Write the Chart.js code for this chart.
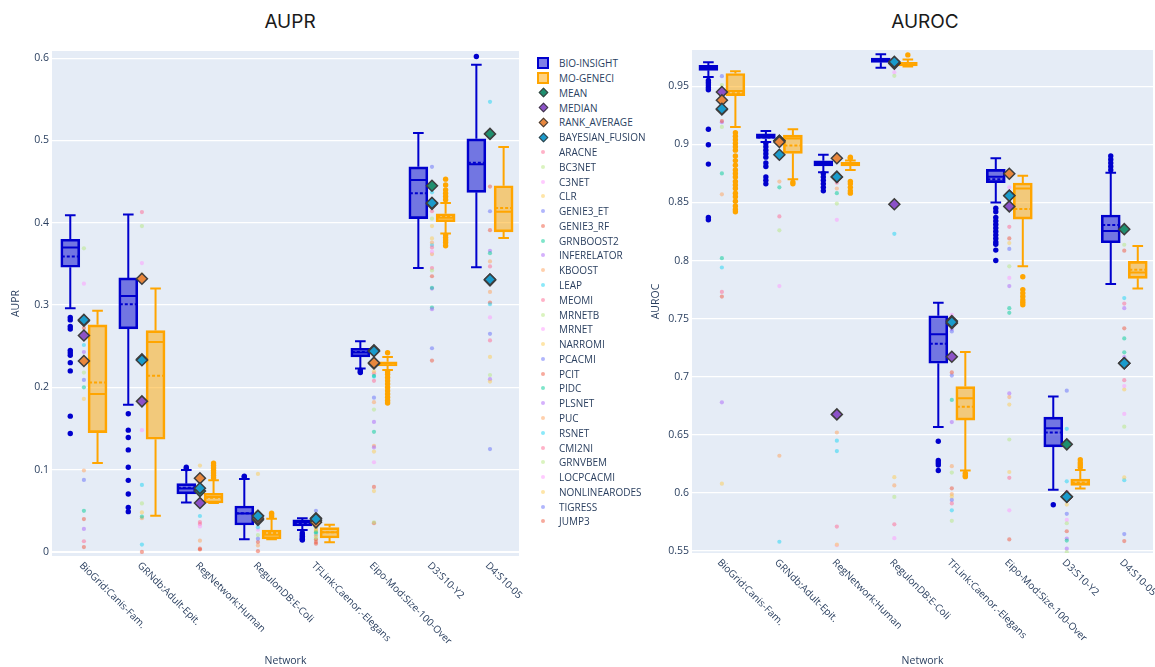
<!DOCTYPE html>
<html>
<head>
<meta charset="utf-8">
<script src="https://cdn.jsdelivr.net/npm/chart.js@4.4.1/dist/chart.umd.min.js"></script>
<style>
  html, body { margin: 0; padding: 0; background: #fff; overflow: hidden; width: 1155px; height: 667px; }
  body { position: relative; font-family: "Open Sans", sans-serif; }
  canvas { position: absolute; top: 0; }
  #aupr { left: 0; }
  #auroc { left: 640px; }
  .title { position: absolute; top: 10px; line-height: 24px; font-family: Inter, "Open Sans", sans-serif;
           font-size: 19px; color: #1a1a1a; transform: translateX(-50%); white-space: nowrap; }
  .lg { position: absolute; left: 559px; font-size: 10px; line-height: 14px; height: 14px; color: #2a3f5f; white-space: nowrap; }
  .sym { position: absolute; box-sizing: border-box; }
</style>
</head>
<body>
<div class="title" style="left:290px">AUPR</div>
<div class="title" style="left:925px">AUROC</div>
<canvas id="aupr" width="530" height="667"></canvas>
<canvas id="auroc" width="520" height="667"></canvas>
<div id="legend"></div>
<script>
/* ---------- data ---------- */
const networks = ['BioGrid:Canis-Fam.', 'GRNdb:Adult-Epit.', 'RegNetwork:Human', 'RegulonDB:E-Coli',
  'TFLink:Caenor.-Elegans', 'Eipo-Mod:Size-100-Over', 'D3:S10-Y2', 'D4:S10-05'];

const methodNames = ['ARACNE', 'BC3NET', 'C3NET', 'CLR', 'GENIE3_ET', 'GENIE3_RF', 'GRNBOOST2', 'INFERELATOR',
  'KBOOST', 'LEAP', 'MEOMI', 'MRNETB', 'MRNET', 'NARROMI', 'PCACMI', 'PCIT', 'PIDC', 'PLSNET', 'PUC', 'RSNET',
  'CMI2NI', 'GRNVBEM', 'LOCPCACMI', 'NONLINEARODES', 'TIGRESS', 'JUMP3'];

const auprTicks = [0, 0.1, 0.2, 0.3, 0.4, 0.5, 0.6];
const aurocTicks = [0.55, 0.6, 0.65, 0.7, 0.75, 0.8, 0.85, 0.9, 0.95];

// AUPR - BIO-INSIGHT
const auprBioLow  = [0.296, 0.179, 0.060, 0.0154, 0.0267, 0.223, 0.345, 0.346];
const auprBioQ1   = [0.346, 0.271, 0.0705, 0.0328, 0.0316, 0.237, 0.405, 0.437];
const auprBioMed  = [0.370, 0.311, 0.077, 0.0466, 0.036, 0.2425, 0.452, 0.471];
const auprBioQ3   = [0.380, 0.333, 0.083, 0.0559, 0.0389, 0.2475, 0.468, 0.502];
const auprBioHigh = [0.409, 0.410, 0.0996, 0.0887, 0.041, 0.256, 0.509, 0.592];
const auprBioMean = [0.359, 0.301, 0.078, 0.047, 0.035, 0.243, 0.436, 0.473];
const auprBioOut  = [
  [0.285, 0.282, 0.274, 0.271, 0.245, 0.242, 0.239, 0.230, 0.220, 0.165, 0.144],
  [0.168, 0.148, 0.139, 0.124, 0.103, 0.087, 0.0705, 0.054, 0.049],
  [0.103, 0.101], [0.092, 0.091], [0.023, 0.021, 0.019, 0.017, 0.0155, 0.0145],
  [0.221, 0.219, 0.218], [], [0.602]];
// AUPR - MO-GENECI
const auprMoLow  = [0.108, 0.044, 0.0595, 0.0155, 0.0118, 0.221, 0.387, 0.3815];
const auprMoQ1   = [0.145, 0.137, 0.0595, 0.016, 0.017, 0.226, 0.401, 0.389];
const auprMoMed  = [0.192, 0.255, 0.0668, 0.021, 0.024, 0.229, 0.406, 0.4135];
const auprMoQ3   = [0.276, 0.269, 0.0713, 0.0267, 0.0296, 0.231, 0.411, 0.445];
const auprMoHigh = [0.293, 0.320, 0.087, 0.0405, 0.0332, 0.237, 0.424, 0.492];
const auprMoMean = [0.206, 0.214, 0.066, 0.023, 0.024, 0.229, 0.407, 0.418];
const auprMoOut  = [[], [],
  [0.090, 0.093, 0.096, 0.099, 0.102, 0.105, 0.108], [0.043, 0.045, 0.047], [],
  [0.242, 0.219, 0.216, 0.212, 0.208, 0.204, 0.200, 0.196, 0.192, 0.188, 0.184, 0.181],
  [0.453, 0.446, 0.440, 0.436, 0.432, 0.428, 0.385, 0.382, 0.379, 0.376, 0.372], []];
// AUPR - consensus strategies
const auprMean   = [0.281, 0.234, 0.074, 0.044, 0.041, 0.245, 0.445, 0.508];
const auprMedian = [0.263, 0.183, 0.0595, 0.039, 0.038, 0.229, 0.424, 0.331];
const auprRank   = [0.232, 0.332, 0.0895, 0.041, 0.036, 0.230, 0.423, 0.330];
const auprBayes  = [0.282, 0.233, 0.0774, 0.0437, 0.040, 0.244, 0.424, 0.331];
// AUPR - individual techniques, one row per network (methodNames order)
const auprMethods = [
  [0.279, 0.369, 0.326, 0.186, 0.209, 0.006, 0.200, 0.243, 0.099, 0.2515, 0.013, 0.218, 0.282, 0.280, 0.0875, 0.040, 0.050, 0.028, 0.232, 0.263, 0.265, 0.234, 0.261, 0.284, 0.230, 0.272],
  [0.413, 0.396, 0.148, 0.048, 0.234, 0.000, 0.043, 0.183, 0.041, 0.0815, 0.332, 0.059, 0.351, 0.337, 0.236, 0.330, 0.232, 0.185, 0.334, 0.009, 0.235, 0.233, 0.181, 0.331, 0.237, 0.329],
  [0.0364, 0.078, 0.031, 0.105, 0.076, 0.004, 0.073, 0.060, 0.0137, 0.0437, 0.034, 0.075, 0.061, 0.090, 0.079, 0.003, 0.072, 0.058, 0.088, 0.077, 0.089, 0.074, 0.062, 0.091, 0.080, 0.059],
  [0.042, 0.0205, 0.038, 0.0948, 0.0162, 0.001, 0.045, 0.040, 0.008, 0.030, 0.037, 0.043, 0.027, 0.046, 0.044, 0.039, 0.041, 0.036, 0.035, 0.034, 0.040, 0.042, 0.044, 0.043, 0.045, 0.012],
  [0.036, 0.030, 0.034, 0.028, 0.050, 0.012, 0.024, 0.044, 0.020, 0.022, 0.032, 0.018, 0.038, 0.026, 0.040, 0.015, 0.035, 0.042, 0.031, 0.033, 0.029, 0.016, 0.037, 0.025, 0.039, 0.010],
  [0.208, 0.173, 0.109, 0.2195, 0.1875, 0.079, 0.214, 0.158, 0.182, 0.213, 0.217, 0.036, 0.229, 0.122, 0.231, 0.035, 0.146, 0.127, 0.129, 0.244, 0.246, 0.228, 0.243, 0.074, 0.247, 0.230],
  [0.414, 0.405, 0.365, 0.396, 0.468, 0.2325, 0.321, 0.295, 0.362, 0.437, 0.370, 0.342, 0.424, 0.381, 0.2475, 0.335, 0.297, 0.320, 0.376, 0.373, 0.345, 0.426, 0.422, 0.445, 0.447, 0.443],
  [0.347, 0.215, 0.508, 0.207, 0.414, 0.444, 0.363, 0.366, 0.353, 0.547, 0.326, 0.331, 0.506, 0.333, 0.265, 0.391, 0.329, 0.210, 0.316, 0.301, 0.257, 0.510, 0.285, 0.237, 0.125, 0.303]
];

// AUROC - BIO-INSIGHT
const aurocBioLow  = [0.958, 0.902, 0.876, 0.966, 0.6567, 0.850, 0.6028, 0.7798];
const aurocBioQ1   = [0.9637, 0.905, 0.8815, 0.9706, 0.7116, 0.867, 0.6397, 0.8153];
const aurocBioMed  = [0.966, 0.907, 0.8835, 0.972, 0.7365, 0.8722, 0.6556, 0.8254];
const aurocBioQ3   = [0.968, 0.909, 0.8858, 0.9743, 0.7525, 0.8785, 0.6653, 0.8392];
const aurocBioHigh = [0.9706, 0.9115, 0.891, 0.9775, 0.7637, 0.888, 0.683, 0.8756];
const aurocBioMean = [0.9655, 0.906, 0.883, 0.9718, 0.7284, 0.870, 0.652, 0.8306];
const aurocBioOut  = [
  [0.955, 0.953, 0.951, 0.949, 0.947, 0.913, 0.8997, 0.883, 0.837, 0.835],
  [0.901, 0.898, 0.895, 0.892, 0.889, 0.884, 0.881, 0.872, 0.869, 0.866],
  [0.875, 0.872, 0.869, 0.866, 0.863, 0.860], [],
  [0.6445, 0.628, 0.626, 0.624, 0.6193],
  [0.845, 0.842, 0.837, 0.834, 0.831, 0.828, 0.825, 0.822, 0.819, 0.816, 0.814, 0.809, 0.800],
  [0.5898], [0.890, 0.887, 0.884, 0.881, 0.878]];
// AUROC - MO-GENECI
const aurocMoLow  = [0.915, 0.870, 0.878, 0.967, 0.6192, 0.795, 0.6038, 0.776];
const aurocMoQ1   = [0.942, 0.8923, 0.8815, 0.9674, 0.6627, 0.8357, 0.6065, 0.7847];
const aurocMoMed  = [0.946, 0.905, 0.883, 0.969, 0.6814, 0.862, 0.608, 0.7898];
const aurocMoQ3   = [0.961, 0.908, 0.8845, 0.9706, 0.6915, 0.8667, 0.612, 0.7993];
const aurocMoHigh = [0.963, 0.913, 0.886, 0.973, 0.7213, 0.873, 0.6198, 0.8125];
const aurocMoMean = [0.944, 0.899, 0.8825, 0.969, 0.6742, 0.8443, 0.609, 0.792];
const aurocMoOut  = [
  [0.910, 0.907, 0.904, 0.901, 0.898, 0.895, 0.890, 0.886, 0.882, 0.878, 0.875, 0.872, 0.868, 0.865, 0.862, 0.858, 0.855, 0.851, 0.847, 0.844, 0.842],
  [0.8675, 0.866], [0.889, 0.888, 0.868, 0.866, 0.863, 0.860, 0.858], [0.977],
  [0.617, 0.615, 0.614], [0.786, 0.775, 0.772, 0.769, 0.766, 0.764, 0.762],
  [0.6285, 0.626, 0.624, 0.622], []];
// AUROC - consensus strategies
const aurocMean   = [0.930, 0.903, 0.872, 0.9695, 0.748, 0.856, 0.6418, 0.827];
const aurocMedian = [0.945, 0.903, 0.6676, 0.8484, 0.7172, 0.8466, 0.5967, 0.7116];
const aurocRank   = [0.938, 0.902, 0.888, 0.970, 0.746, 0.8747, 0.5967, 0.7116];
const aurocBayes  = [0.9306, 0.891, 0.872, 0.971, 0.747, 0.8558, 0.5967, 0.7116];
// AUROC - individual techniques
const aurocMethods = [
  [0.773, 0.951, 0.946, 0.608, 0.9587, 0.920, 0.875, 0.678, 0.857, 0.794, 0.939, 0.915, 0.937, 0.945, 0.944, 0.769, 0.802, 0.919, 0.938, 0.931, 0.929, 0.930, 0.943, 0.932, 0.936, 0.928],
  [0.838, 0.826, 0.778, 0.902, 0.905, 0.900, 0.863, 0.893, 0.868, 0.558, 0.890, 0.903, 0.889, 0.901, 0.904, 0.892, 0.894, 0.888, 0.632, 0.906, 0.900, 0.902, 0.891, 0.903, 0.905, 0.890],
  [0.867, 0.849, 0.835, 0.5555, 0.873, 0.887, 0.858, 0.668, 0.862, 0.645, 0.571, 0.871, 0.555, 0.889, 0.874, 0.870, 0.872, 0.666, 0.652, 0.636, 0.886, 0.873, 0.669, 0.888, 0.870, 0.890],
  [0.573, 0.959, 0.962, 0.6136, 0.970, 0.968, 0.971, 0.969, 0.6065, 0.823, 0.972, 0.5966, 0.5611, 0.970, 0.971, 0.969, 0.970, 0.848, 0.972, 0.967, 0.971, 0.970, 0.969, 0.971, 0.972, 0.970],
  [0.591, 0.6175, 0.7532, 0.597, 0.739, 0.7037, 0.680, 0.741, 0.623, 0.585, 0.748, 0.576, 0.718, 0.750, 0.701, 0.604, 0.745, 0.661, 0.599, 0.745, 0.715, 0.749, 0.716, 0.746, 0.594, 0.719],
  [0.829, 0.795, 0.863, 0.815, 0.810, 0.819, 0.759, 0.778, 0.6825, 0.856, 0.613, 0.646, 0.785, 0.676, 0.875, 0.560, 0.755, 0.6856, 0.846, 0.857, 0.874, 0.855, 0.585, 0.618, 0.848, 0.876],
  [0.601, 0.5739, 0.5768, 0.590, 0.688, 0.598, 0.559, 0.5608, 0.597, 0.6552, 0.642, 0.549, 0.644, 0.640, 0.582, 0.567, 0.641, 0.552, 0.595, 0.610, 0.599, 0.643, 0.596, 0.639, 0.598, 0.640],
  [0.763, 0.8136, 0.692, 0.689, 0.5646, 0.8085, 0.733, 0.759, 0.827, 0.7677, 0.697, 0.657, 0.668, 0.6133, 0.829, 0.7417, 0.721, 0.717, 0.712, 0.611, 0.826, 0.710, 0.713, 0.7116, 0.825, 0.5586]
];

/* ---------- styles ---------- */
const BLUE = '#0000CD', BLUE_FILL = 'rgba(0,0,205,0.5)';
const ORANGE = '#FFA500', ORANGE_FILL = 'rgba(255,165,0,0.5)';
const consensusColors = ['#1f8f6f', '#8c52c8', '#e8873d', '#1a9bcc'];
const palette = ['#FF6692', '#B6E880', '#FF97FF', '#FECB52', '#636EFA', '#EF553B', '#00CC96', '#AB63FA', '#FFA15A', '#19D3F3'];
const methodColor = (j) => palette[j % 10];
const INK = '#2a3f5f';
const OFF = 0.235;     // box offset from category centre (category units)
const BOX_PX = 19;

function alpha(hex, a) {
  const n = parseInt(hex.slice(1), 16);
  return `rgba(${n >> 16},${(n >> 8) & 255},${n & 255},${a})`;
}

/* ---------- plugins ---------- */
const plotBg = {
  id: 'plotBg',
  beforeDraw(chart) {
    const { ctx, chartArea: a } = chart;
    ctx.save();
    ctx.fillStyle = '#E5ECF6';
    ctx.fillRect(a.left, a.top, a.right - a.left, a.bottom - a.top);
    ctx.restore();
  }
};

// whiskers, median and (dashed) mean drawn right after each box dataset
const boxLines = {
  id: 'boxLines',
  afterDatasetDraw(chart, args) {
    const ds = chart.data.datasets[args.index];
    const w = ds.whisker;
    if (!w) return;
    const { ctx, scales: { x, y } } = chart;
    const half = BOX_PX / 2 - 1, cap = BOX_PX * 0.28;
    ctx.save();
    ctx.strokeStyle = w.line;
    ctx.lineWidth = 2;
    w.low.forEach((lo, i) => {
      const cx = x.getPixelForValue(i + w.shift);
      const yLo = y.getPixelForValue(lo), yHi = y.getPixelForValue(w.high[i]);
      const yQ1 = y.getPixelForValue(ds.data[i].y[0]), yQ3 = y.getPixelForValue(ds.data[i].y[1]);
      const yMed = y.getPixelForValue(w.med[i]), yMean = y.getPixelForValue(w.mean[i]);
      ctx.setLineDash([]);
      ctx.beginPath();
      ctx.moveTo(cx, yQ1); ctx.lineTo(cx, yLo);
      ctx.moveTo(cx - cap, yLo); ctx.lineTo(cx + cap, yLo);
      ctx.moveTo(cx, yQ3); ctx.lineTo(cx, yHi);
      ctx.moveTo(cx - cap, yHi); ctx.lineTo(cx + cap, yHi);
      ctx.moveTo(cx - half, yMed); ctx.lineTo(cx + half, yMed);
      ctx.stroke();
      ctx.setLineDash([3, 2]);
      ctx.beginPath();
      ctx.moveTo(cx - half, yMean); ctx.lineTo(cx + half, yMean);
      ctx.stroke();
    });
    ctx.restore();
  }
};

// rotated category labels (45 degrees, reading down-right)
const slantLabels = {
  id: 'slantLabels',
  afterDraw(chart) {
    const { ctx, chartArea, scales: { x } } = chart;
    ctx.save();
    ctx.font = '10px "Open Sans"';
    ctx.fillStyle = INK;
    ctx.textAlign = 'left';
    ctx.textBaseline = 'middle';
    networks.forEach((name, i) => {
      ctx.save();
      ctx.translate(x.getPixelForValue(i) - 3, chartArea.bottom + 8);
      ctx.rotate(Math.PI / 4);
      ctx.fillText(name, 0, 0);
      ctx.restore();
    });
    ctx.restore();
  }
};

/* ---------- dataset builders ---------- */
function boxSet(label, low, q1, med, q3, high, mean, shift, line, fill) {
  return {
    type: 'bar', label, order: 6,
    data: q1.map((v, i) => ({ x: i + shift, y: [v, q3[i]] })),
    backgroundColor: fill, borderColor: line, borderWidth: 2, borderSkipped: false,
    barThickness: BOX_PX, grouped: false,
    whisker: { low, med, high, mean, shift, line }
  };
}

function outlierSet(outs, shift, color) {
  const pts = [];
  outs.forEach((list, i) => list.forEach(v => pts.push({ x: i + shift, y: v })));
  return { type: 'scatter', order: 5, data: pts, pointRadius: 2.7, pointBackgroundColor: color, pointBorderWidth: 0 };
}

function diamondSet(vals, k) {
  return {
    type: 'scatter', order: 3 - k,
    data: vals.map((v, i) => ({ x: i, y: v })),
    pointStyle: 'rectRot', pointRadius: 5.5,
    pointBackgroundColor: consensusColors[k], pointBorderColor: '#3d3d3d', pointBorderWidth: 1.5
  };
}

function methodSets(rows) {
  return methodNames.map((m, j) => ({
    type: 'scatter', order: 4, label: m,
    data: rows.map((row, i) => ({ x: i, y: row[j] })),
    pointRadius: 2.1, pointBackgroundColor: alpha(methodColor(j), 0.5), pointBorderWidth: 0
  }));
}

function makeChart(id, s) {
  return new Chart(document.getElementById(id), {
    type: 'bar',
    data: {
      datasets: [
        boxSet('BIO-INSIGHT', ...s.bio, -OFF, BLUE, BLUE_FILL),
        boxSet('MO-GENECI', ...s.mo, OFF, ORANGE, ORANGE_FILL),
        outlierSet(s.bioOut, -OFF, BLUE),
        outlierSet(s.moOut, OFF, ORANGE),
        ...s.consensus.map((v, k) => diamondSet(v, k)),
        ...methodSets(s.methods)
      ]
    },
    options: {
      responsive: false, animation: false, devicePixelRatio: 1,
      layout: { padding: { top: s.top, right: s.right, left: 0, bottom: 0 } },
      plugins: { legend: { display: false }, tooltip: { enabled: false } },
      scales: {
        x: {
          type: 'linear', min: s.xMin, max: 7.5, offset: false,
          grid: { display: false }, border: { display: false },
          ticks: { display: false },
          title: { display: true, text: 'Network', color: INK, font: { family: 'Open Sans', size: 10.5 }, padding: 0 },
          afterFit: (sc) => { sc.height = s.xHeight; }
        },
        y: {
          type: 'linear', min: s.min, max: s.max,
          grid: { color: '#fff', lineWidth: (c) => (c.tick && c.tick.value === 0 ? 2 : 1.3), drawTicks: false },
          border: { display: false },
          afterBuildTicks: (sc) => { sc.ticks = s.ticks.map(v => ({ value: v })); },
          ticks: { autoSkip: false, padding: 3, color: INK, font: { family: 'Open Sans', size: 10.5 },
                   callback: (v) => String(+v.toFixed(2)) },
          title: { display: true, text: s.yTitle, color: INK, font: { family: 'Open Sans', size: 10.5 }, padding: { top: 10, bottom: 0 } },
          afterFit: (sc) => { sc.width = s.yWidth; }
        }
      }
    },
    plugins: [plotBg, boxLines, slantLabels]
  });
}

makeChart('aupr', {
  bio: [auprBioLow, auprBioQ1, auprBioMed, auprBioQ3, auprBioHigh, auprBioMean],
  mo: [auprMoLow, auprMoQ1, auprMoMed, auprMoQ3, auprMoHigh, auprMoMean],
  bioOut: auprBioOut, moOut: auprMoOut,
  consensus: [auprMean, auprMedian, auprRank, auprBayes],
  methods: auprMethods, ticks: auprTicks, yTitle: 'AUPR',
  min: -0.0049, max: 0.6087, xMin: -0.55, top: 51, right: 11, xHeight: 111, yWidth: 52
});

makeChart('auroc', {
  bio: [aurocBioLow, aurocBioQ1, aurocBioMed, aurocBioQ3, aurocBioHigh, aurocBioMean],
  mo: [aurocMoLow, aurocMoQ1, aurocMoMed, aurocMoQ3, aurocMoHigh, aurocMoMean],
  bioOut: aurocBioOut, moOut: aurocMoOut,
  consensus: [aurocMean, aurocMedian, aurocRank, aurocBayes],
  methods: aurocMethods, ticks: aurocTicks, yTitle: 'AUROC',
  min: 0.5483, max: 0.9812, xMin: -0.52, top: 50, right: 3, xHeight: 114, yWidth: 52
});

/* ---------- shared legend ---------- */
const legendNames = ['BIO-INSIGHT', 'MO-GENECI', 'MEAN', 'MEDIAN', 'RANK_AVERAGE', 'BAYESIAN_FUSION', ...methodNames];
const legend = document.getElementById('legend');
legendNames.forEach((name, i) => {
  const cy = 63.3 + 14.78 * i;
  const sym = document.createElement('div');
  sym.className = 'sym';
  if (i < 2) {
    Object.assign(sym.style, { left: '537px', top: (cy - 6) + 'px', width: '12px', height: '12px',
      border: '2px solid ' + (i ? ORANGE : BLUE), background: i ? ORANGE_FILL : BLUE_FILL });
  } else if (i < 6) {
    Object.assign(sym.style, { left: '539.5px', top: (cy - 3.5) + 'px', width: '7px', height: '7px',
      border: '1.5px solid #3d3d3d', background: consensusColors[i - 2], transform: 'rotate(45deg)' });
  } else {
    Object.assign(sym.style, { left: '541px', top: (cy - 2) + 'px', width: '4px', height: '4px',
      borderRadius: '50%', background: alpha(methodColor(i - 6), 0.5) });
  }
  legend.appendChild(sym);
  const t = document.createElement('div');
  t.className = 'lg';
  t.style.top = (cy - 7) + 'px';
  t.textContent = name;
  legend.appendChild(t);
});
</script>
</body>
</html>
